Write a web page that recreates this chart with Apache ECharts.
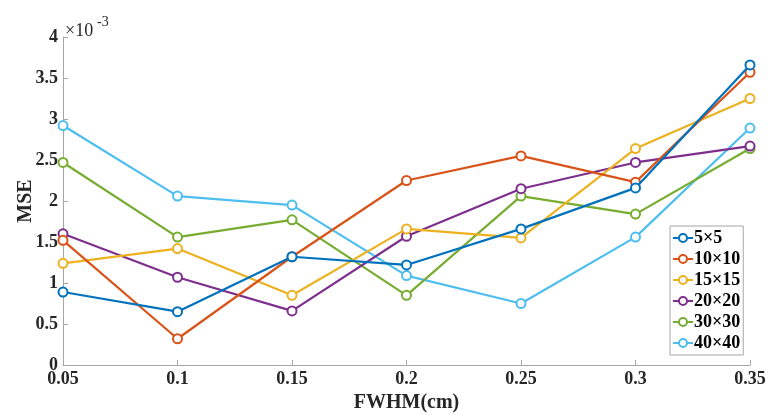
<!DOCTYPE html>
<html>
<head>
<meta charset="utf-8">
<script src="https://cdn.jsdelivr.net/npm/echarts@6/dist/echarts.min.js"></script>
<style>html,body{margin:0;padding:0;background:#fff}#c{width:771px;height:415px}</style>
</head>
<body>
<div id="c"></div>
<script>
const categories = ['0.05', '0.1', '0.15', '0.2', '0.25', '0.3', '0.35'];
const yTicks = [0, 0.5, 1, 1.5, 2, 2.5, 3, 3.5, 4];
const seriesNames = ['5×5', '10×10', '15×15', '20×20', '30×30', '40×40'];
const s5 = [0.89, 0.65, 1.32, 1.22, 1.66, 2.16, 3.66];
const s10 = [1.52, 0.32, 1.32, 2.25, 2.55, 2.23, 3.57];
const s15 = [1.24, 1.42, 0.85, 1.66, 1.55, 2.64, 3.25];
const s20 = [1.60, 1.07, 0.66, 1.57, 2.15, 2.47, 2.67];
const s30 = [2.47, 1.56, 1.77, 0.85, 2.06, 1.84, 2.64];
const s40 = [2.92, 2.06, 1.95, 1.09, 0.75, 1.56, 2.89];
const colors = ['#0072BD', '#D95319', '#EDB120', '#7E2F8E', '#77AC30', '#4DBEEE'];

const dataSets = [s5, s10, s15, s20, s30, s40];
const FONT = '"Liberation Serif", "Times New Roman", serif';

const chart = echarts.init(document.getElementById('c'), null, {renderer: 'canvas'});
chart.setOption({
  animation: false,
  backgroundColor: '#fff',
  grid: {left: 63, right: 21, top: 37, bottom: 50, containLabel: false, outerBoundsMode: 'none'},
  xAxis: {
    type: 'category',
    data: categories,
    boundaryGap: false,
    name: 'FWHM(cm)',
    nameLocation: 'middle',
    nameGap: 28,
    nameMoveOverlap: false,
    nameTextStyle: {fontFamily: FONT, fontWeight: 'bold', fontSize: 20, color: '#262626'},
    axisLine: {lineStyle: {color: '#a6a6a6', width: 1}},
    axisTick: {inside: true, length: 5, alignWithLabel: true, lineStyle: {color: '#a6a6a6'}},
    axisLabel: {fontFamily: FONT, fontWeight: 'bold', fontSize: 18, color: '#262626', margin: 5},
    splitLine: {show: false}
  },
  yAxis: {
    type: 'value',
    min: yTicks[0],
    max: yTicks[yTicks.length - 1],
    interval: 0.5,
    name: 'MSE',
    nameLocation: 'middle',
    nameGap: 27,
    nameMoveOverlap: false,
    nameTextStyle: {fontFamily: FONT, fontWeight: 'bold', fontSize: 20, color: '#262626'},
    axisLine: {show: true, lineStyle: {color: '#a6a6a6', width: 1}},
    axisTick: {show: true, inside: true, length: 5, lineStyle: {color: '#a6a6a6'}},
    axisLabel: {fontFamily: FONT, fontWeight: 'bold', fontSize: 18, color: '#262626', margin: 5},
    splitLine: {show: false}
  },
  legend: {
    orient: 'vertical',
    left: 670,
    top: 226,
    data: seriesNames,
    backgroundColor: '#fff',
    borderColor: '#a6a6a6',
    borderWidth: 1,
    padding: [3, 3, 3, 2],
    itemGap: 3,
    itemWidth: 20,
    itemHeight: 10,
    textStyle: {fontFamily: FONT, fontWeight: 'bold', fontSize: 18, lineHeight: 18, color: '#000', padding: [0, 0, 0, -4]}
  },
  graphic: [{
    type: 'text',
    left: 65,
    top: 22,
    style: {text: '×10', fontFamily: FONT, fontSize: 18, fill: '#262626'}
  }, {
    type: 'text',
    left: 97,
    top: 15,
    style: {text: '-3', fontFamily: FONT, fontSize: 14, fill: '#262626'}
  }],
  series: dataSets.map((d, i) => ({
    name: seriesNames[i],
    type: 'line',
    data: d,
    color: colors[i],
    symbol: 'emptyCircle',
    symbolSize: 9,
    lineStyle: {width: 2.2},
    itemStyle: {borderWidth: 2},
    z: 10 - i
  }))
});
</script>
</body>
</html>
